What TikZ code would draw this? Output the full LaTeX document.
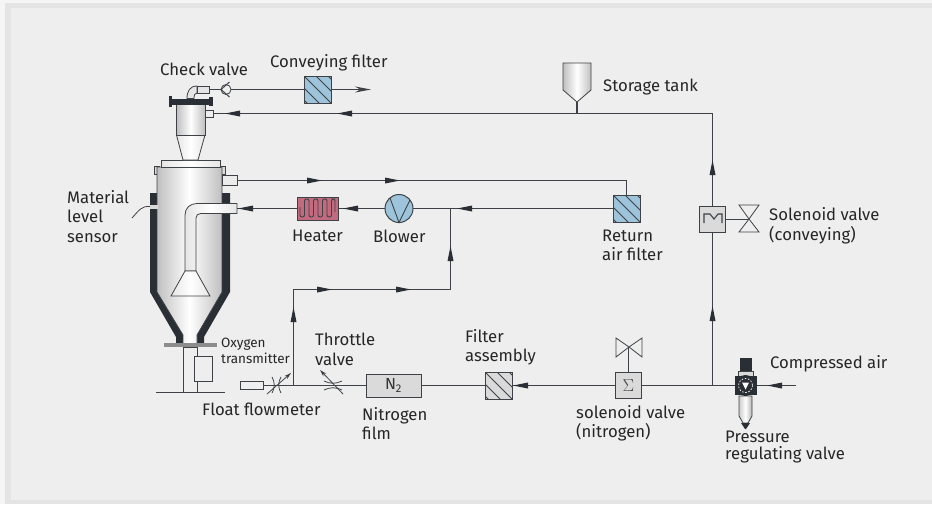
\documentclass[tikz,border=0pt]{standalone}
\usepackage{fontspec}
\setmainfont{Fira Sans}
\usetikzlibrary{arrows.meta}
\definecolor{paper}{HTML}{EEEEEE}
\definecolor{band}{HTML}{E4E4E4}
\definecolor{ink}{HTML}{3E4247}
\definecolor{jacket}{HTML}{2A2E35}
\definecolor{hatchblue}{HTML}{9DC4DA}
\definecolor{heatred}{HTML}{C26A7E}
\definecolor{boxgray}{HTML}{DADADA}
\tikzset{
    pipe/.style={draw=ink,line width=1.2pt},
    part/.style={draw=ink,line width=0.8pt},
    steel/.style={part,left color=black!25,right color=black!25,middle color=white},
    palesteel/.style={part,left color=black!10,right color=black!10,middle color=white},
    label/.style={anchor=west,inner sep=0pt,text=black!85,font=\fontsize{16.7}{19.5}\selectfont,align=left},
    flowtip/.style={fill=jacket,draw=none},
    squarebox/.style={draw=ink,line width=0.9pt,inner sep=0pt,outer sep=0pt,minimum size=#1},
    hatchbox/.style={squarebox=27pt,path picture={
        \foreach \d in {-24,-12,0,12,24}
            \draw[ink,line width=0.8pt,shift={(path picture bounding box.center)}] (\d-20,-20) -- (\d+20,20);}},
}
\begin{document}
\begin{tikzpicture}[x=1pt,y=-1pt]
    \useasboundingbox (0,0) rectangle (932,504);
    \fill[paper!60!white] (0,0) rectangle (932,504);
    \fill[band] (5,3) rectangle (932,504);
    \fill[paper] (11,8) rectangle (932,500);

    % vessel
    \fill[jacket] (150,193) -- (158,193) -- (158,292) -- (183,335) -- (183,345) -- (176,345) -- (176,337) -- (150,292) -- cycle;
    \fill[jacket] (230,193) -- (222,193) -- (222,292) -- (197,335) -- (197,345) -- (204,345) -- (204,337) -- (230,292) -- cycle;
    \draw[part,fill=boxgray] (154.5,166) rectangle (159,174);
    \draw[part,fill=boxgray] (220,166) rectangle (225.5,174);
    \draw[steel] (157,167) -- (222,167) -- (222,292) -- (197,335) -- (197,345) -- (183,345) -- (183,335) -- (157,292) -- cycle;
    \draw[palesteel] (161,167) -- (161,160) -- (220,160) -- (220,167) -- cycle;
    \fill[black!45] (164,343) rectangle (217,347);
    \draw[part,fill=paper] (183.5,347) rectangle (197.5,392.5);
    \draw[part,line width=1pt] (156,392.5) -- (225,392.5);
    \node[draw=ink,line width=0.8pt,fill=paper,inner sep=0pt,outer sep=0pt,minimum width=17.5pt,minimum height=25pt] (oxygenbox) at (203.5,369) {};

    % inner pipe
    \draw[palesteel] (237,203.5) -- (197,203.5) .. controls (190,203.5) and (185,208) .. (185,215) -- (185,271) -- (196,271) -- (196,218) .. controls (196,215) and (198,213.5) .. (201,213.5) -- (237,213.5) -- cycle;
    \draw[palesteel] (185,271) -- (196,271) -- (210,296) -- (171,296) -- cycle;
    \fill[black!15] (150,204.5) rectangle (158,209);
    \draw[part] (150,206.5) .. controls (142,206) and (140,209) .. (132,218);

    % cyclone
    \draw[palesteel] (183,160) -- (176.5,135) -- (205,135) -- (198,160) -- cycle;
    \draw[steel] (176.5,104) rectangle (205,135);
    \node[squarebox=7pt,minimum width=8pt,fill=paper] (cycloneport) at (209,113.5) {};
    \fill[jacket] (170,98.5) rectangle (211,104.5);
    \fill[jacket] (168.5,96) rectangle (172,107);
    \fill[jacket] (209,96.5) rectangle (212.5,106);
    \draw[part,fill=white!90!black] (187,98.5) .. controls (187,91) and (190,86) .. (197,86) -- (197,93) .. controls (195,93) and (194,95) .. (194,98.5) -- cycle;
    \node[squarebox=7pt,minimum width=12pt,fill=white!90!black] (elbowend) at (203,89.5) {};
    \node[part,circle,fill=paper,inner sep=0pt,outer sep=0pt,minimum size=10pt] (checkvalve) at (226,89.5) {};
    \draw[part,line width=1pt] (229.5,82) -- (221,89.5) -- (229.5,97);

    % upper and lower body ports
    \node[squarebox=10pt,minimum width=15pt,fill=white!92!black] (bodyport) at (229.5,180.5) {};
    \coordinate (inlet) at (237,208.5);

    % storage tank
    \draw[steel] (563,63) -- (591,63) -- (591,90) -- (577,102) -- (563,90) -- cycle;
    \coordinate (tanktip) at (577,102);
    \coordinate (tanktee) at (577,113.5);
    \coordinate (topcorner) at (712.5,113.5);

    % equipment on the lines
    \node[hatchbox,fill=hatchblue] (conveyfilter) at (317.5,89.5) {};
    \node[hatchbox,fill=hatchblue] (returnfilter) at (626.5,208.5) {};
    \node[hatchbox,fill=boxgray] (filterassembly) at (498.5,385.5) {};
    \node[squarebox=23pt,minimum width=41pt,fill=heatred] (heater) at (317.5,208.5) {};
    \draw[ink,line width=0.9pt,rounded corners=2pt] (300,207) -- (300,217) -- (304.5,217) -- (304.5,199) -- (309,199) -- (309,217) -- (313.5,217) -- (313.5,199) -- (318,199) -- (318,217) -- (322.5,217) -- (322.5,199) -- (327,199) -- (327,217) -- (331.5,217) -- (331.5,199) -- (335,199) -- (335,212);
    \node[draw=ink,line width=1pt,circle,fill=hatchblue,inner sep=0pt,outer sep=0pt,minimum size=28pt] (blower) at (399,208.5) {};
    \draw[ink,line width=0.9pt] (390,198) -- (399,222.5) -- (410,200);
    \node[squarebox=23pt,minimum width=55pt,fill=boxgray,font=\fontsize{16}{18}\selectfont,text=black!80] (nitrogen) at (393.5,385.5) {N\textsubscript{2}};
    \node[squarebox=26pt,fill=boxgray,font=\fontsize{18}{20}\selectfont,text=black!75] (sigmabox) at (628.5,385.5) {$\Sigma$};
    \node[squarebox=26pt,fill=boxgray] (conveybox) at (712.5,219) {};
    \draw[ink,line width=1.1pt] (704,223) -- (704,214) -- (710,214) -- (714,219) -- (718,214) -- (722,214) -- (722,223);
    \node[draw=ink,line width=0.8pt,fill=paper,inner sep=0pt,outer sep=0pt,minimum width=23pt,minimum height=8pt] (flowmeter) at (251.5,385.5) {};
    \coordinate (flowtee) at (293.5,385.5);
    \coordinate (airtee) at (712.5,385.5);
    \coordinate (blowtee) at (450.5,208.5);
    \coordinate (risetop) at (293.5,289.5);
    \coordinate (risecorner) at (450.5,289.5);
    \coordinate (airfree) at (796,385.5);
    \coordinate (conveyend) at (371,89.5);
    \coordinate (sigmavalve) at (628.5,347);
    \coordinate (conveyvalve) at (749,219);

    % connectors
    \draw[pipe] (tanktip) -- (tanktee);
    \draw[pipe] (cycloneport.east) -- (tanktee) -- (topcorner) -- (conveybox.north);
    \draw[pipe] (conveybox.south) -- (airtee);
    \draw[pipe] (airfree) -- (sigmabox.east);
    \draw[pipe] (sigmabox.west) -- (filterassembly.east);
    \draw[pipe] (filterassembly.west) -- (nitrogen.east);
    \draw[pipe] (nitrogen.west) -- (flowmeter.east);
    \draw[pipe] (flowtee) -- (risetop) -- (risecorner) -- (blowtee);
    \draw[pipe] (returnfilter.west) -- (blower.east);
    \draw[pipe] (blower.west) -- (heater.east);
    \draw[pipe] (heater.west) -- (inlet);
    \draw[pipe] (bodyport.east) -- (returnfilter.north |- bodyport.east) -- (returnfilter.north);
    \draw[pipe] (elbowend.east) -- (checkvalve.west);
    \draw[pipe] (checkvalve.east) -- (conveyfilter.west);
    \draw[pipe,-{Stealth[length=16pt,width=6pt]}] (conveyfilter.east) -- (conveyend);
    \draw[pipe,line width=0.9pt] (sigmabox.north) -- (sigmavalve);
    \draw[pipe,line width=0.9pt] (conveybox.east) -- (conveyvalve);

    % flow arrows
    \foreach \x/\y/\a in {225/113.5/180,337/113.5/180,238/208.5/180,343/208.5/180,457/208.5/180,513/385.5/180,767/385.5/180,
                          322/180.5/0,400/180.5/0,332/289.5/0,411/289.5/0,
                          450.5/246/90,293.5/307/90,712.5/306/90,712.5/160/90}
        \fill[flowtip,shift={(\x,\y)},rotate=\a] (0,0) -- (-15,-3) -- (-15,3) -- cycle;

    % valve symbols
    \draw[part,fill=paper] (616,338) -- (629,347) -- (642,338) -- (642,357) -- (629,347) -- (616,357) -- cycle;
    \draw[part,fill=paper] (739,205) -- (759,205) -- (749,219) -- (759,232) -- (739,232) -- (749,219) -- cycle;
    \draw[part] (272,377) .. controls (275,382) and (275,388) .. (272,393);
    \draw[part] (281,377) .. controls (278,382) and (278,388) .. (281,393);
    \draw[part,-{Stealth[length=7pt,width=4pt]}] (267,394) -- (291,373);
    \draw[part] (324,381) .. controls (330,384) and (336,384) .. (342,381);
    \draw[part] (324,390) .. controls (330,387) and (336,387) .. (342,390);
    \draw[part,-{Stealth[length=7pt,width=4pt]}] (343,394) -- (320,370);

    % regulating valve
    \fill[jacket] (740,358) rectangle (752,371);
    \draw[part,fill=boxgray] (738,371) rectangle (753,376);
    \fill[jacket] (735,376) rectangle (757,395);
    \draw[part,left color=black!20,right color=black!30,middle color=white] (739,396) -- (752,396) -- (752,416) -- (748,423) -- (743,423) -- (739,416) -- cycle;
    \fill[jacket] (741,423) -- (750,423) -- (746,429) -- (745,429) -- cycle;
    \node[circle,fill=jacket,inner sep=0pt,minimum size=21pt] (regwheel) at (745.5,385.5) {};
    \draw[white,line width=0.7pt,dash pattern=on 1.6pt off 1.6pt] (regwheel) circle (7);
    \fill[white] (742,382.5) -- (749,382.5) -- (745.5,389.5) -- cycle;

    % labels
    \node[label] (checklabel) at (160,69) {Check valve};
    \node[label] (conveyfilterlabel) at (270,63) {Conveying filter};
    \node[label] (tanklabel) at (603,87) {Storage tank};
    \node[label] (levellabel) at (67,216.5) {Material\\level\\sensor};
    \node[label] (heaterlabel) at (292,236) {Heater};
    \node[label] (blowerlabel) at (373,236) {Blower};
    \node[label] (returnlabel) at (602,245.5) {Return\\air filter};
    \node[label] (conveyvalvelabel) at (769,226) {Solenoid valve\\(conveying)};
    \node[label] (airlabel) at (770,364) {Compressed air};
    \node[label,font=\fontsize{13.5}{16}\selectfont] (oxygenlabel) at (221,351) {Oxygen\\transmitter};
    \node[label] (throttlelabel) at (315,349.5) {Throttle\\valve};
    \node[label] (floatlabel) at (202,409) {Float flowmeter};
    \node[label] (nitrogenlabel) at (362,423.5) {Nitrogen\\film};
    \node[label] (filterlabel) at (465,347.5) {Filter\\assembly};
    \node[label] (sigmalabel) at (576,423.5) {solenoid valve\\(nitrogen)};
    \node[label,font=\fontsize{16.7}{17}\selectfont] (regulatorlabel) at (725,447.5) {Pressure\\regulating valve};
\end{tikzpicture}
\end{document}
